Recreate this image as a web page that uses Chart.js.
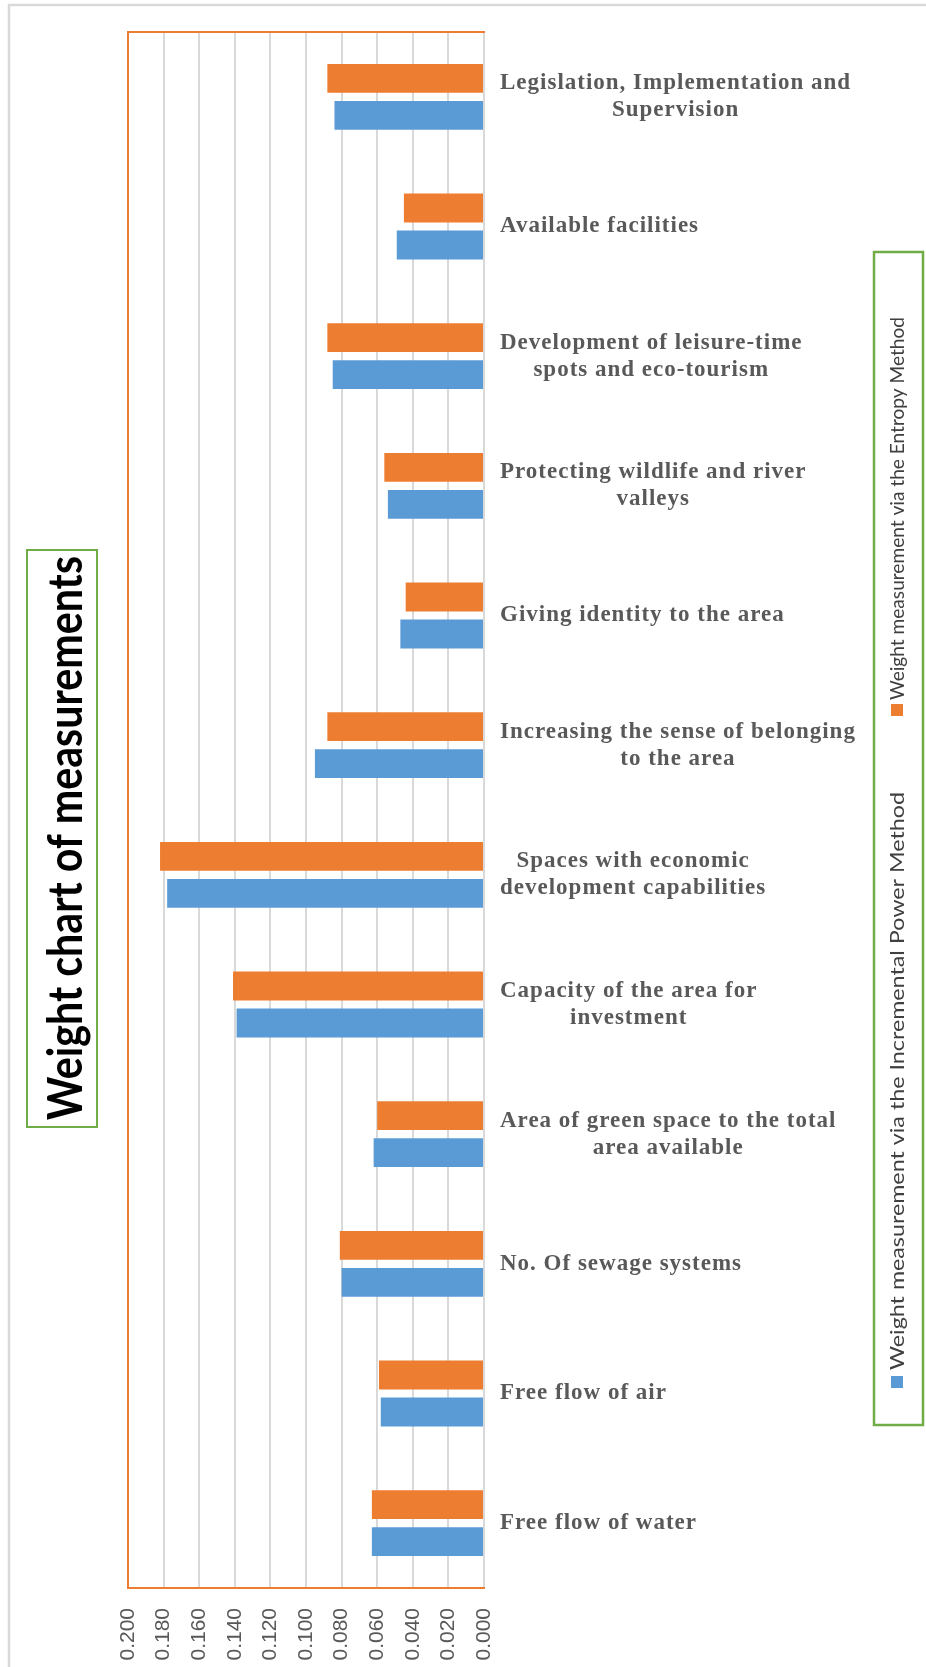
<!DOCTYPE html>
<html>
<head>
<meta charset="utf-8">
<title>Weight chart of measurements</title>
<style>
  html, body { margin: 0; padding: 0; background: #fff; overflow: hidden; }
  #wrap { width: 926px; height: 1667px; position: relative; }
</style>
<script src="https://cdn.jsdelivr.net/npm/chart.js@4/dist/chart.umd.min.js"></script>
</head>
<body>
<div id="wrap"><canvas id="chart_weightMeasurements"></canvas></div>
<script>
// sheet order: the first category ends up at the bottom of the picture
var categories = [
    ['Free flow of water'],
    ['Free flow of air'],
    ['No. Of sewage systems'],
    ['Area of green space to the total', 'area available'],
    ['Capacity of the area for', 'investment'],
    ['Spaces with economic', 'development capabilities'],
    ['Increasing the sense of belonging', 'to the area'],
    ['Giving identity to the area'],
    ['Protecting wildlife and river', 'valleys'],
    ['Development of leisure-time', 'spots and eco-tourism'],
    ['Available facilities'],
    ['Legislation, Implementation and', 'Supervision']
];
var incrementalPowerWeights = [0.063, 0.058, 0.080, 0.062, 0.139, 0.178, 0.095, 0.047, 0.054, 0.085, 0.049, 0.084];
var entropyWeights = [0.063, 0.059, 0.081, 0.060, 0.141, 0.182, 0.088, 0.044, 0.056, 0.088, 0.045, 0.088];
var valueTickLabels = ['0.000', '0.020', '0.040', '0.060', '0.080', '0.100', '0.120', '0.140', '0.160', '0.180', '0.200'];
var seriesIncremental = 'Weight measurement via the Incremental Power Method';
var seriesEntropy = 'Weight measurement via the Entropy Method';
var chartTitle = 'Weight chart of measurements';

var BLUE = '#5B9BD5', ORANGE = '#ED7D31', GREEN = '#70AD47';

// draws text rotated to read bottom-to-top, stretched to a given length
function drawUpText(ctx, text, x, y, len, font, align, baseline) {
    ctx.save();
    ctx.font = font;
    var w = ctx.measureText(text).width;
    ctx.translate(x, y);
    ctx.rotate(-Math.PI / 2);
    ctx.scale(len / w, 1);
    ctx.textAlign = align;
    ctx.textBaseline = baseline || 'middle';
    ctx.fillText(text, 0, 0);
    ctx.restore();
}

var decorations = {
    id: 'decorations',
    beforeDraw: function (chart) {
        var ctx = chart.ctx;
        ctx.save();
        ctx.fillStyle = '#fff';
        ctx.fillRect(0, 0, chart.width, chart.height);
        ctx.strokeStyle = '#d9d9d9';
        ctx.lineWidth = 2.5;
        ctx.strokeRect(9, 5, chart.width + 40, chart.height + 40);
        ctx.restore();
    },
    afterDraw: function (chart) {
        var ctx = chart.ctx;
        var area = chart.chartArea;
        var yScale = chart.scales.y;
        ctx.save();

        // orange plot frame (left + top, bottom is the x axis border)
        ctx.strokeStyle = ORANGE;
        ctx.lineWidth = 2;
        ctx.beginPath();
        ctx.moveTo(area.right + 1, area.top);
        ctx.lineTo(area.left, area.top);
        ctx.lineTo(area.left, area.bottom);
        ctx.stroke();

        // category labels, block left aligned, lines centred in the block
        ctx.font = 'bold 23px "Liberation Serif"';
        ctx.letterSpacing = '1px';
        ctx.fillStyle = '#595959';
        ctx.textAlign = 'center';
        ctx.textBaseline = 'middle';
        categories.forEach(function (lines, i) {
            var cy = yScale.getPixelForTick(i);
            var w = Math.max.apply(null, lines.map(function (l) { return ctx.measureText(l).width; }));
            var cx = area.right + 16 + w / 2;
            lines.forEach(function (line, k) {
                ctx.fillText(line, cx, cy + (k - (lines.length - 1) / 2) * 27);
            });
        });
        ctx.letterSpacing = '0px';

        // title box
        ctx.strokeStyle = GREEN;
        ctx.lineWidth = 2;
        ctx.strokeRect(27, 550, 70, 577);
        ctx.fillStyle = '#000';
        drawUpText(ctx, chartTitle, 82, 838, 564, 'bold 48px Lato', 'center', 'alphabetic');

        // legend box
        ctx.lineWidth = 2.5;
        ctx.strokeRect(874, 252, 49, 1173);
        ctx.fillStyle = ORANGE;
        ctx.fillRect(891, 704, 12, 12);
        ctx.fillStyle = BLUE;
        ctx.fillRect(891, 1376, 12, 12);
        ctx.fillStyle = '#404040';
        drawUpText(ctx, seriesEntropy, 898, 700, 383, '20px Lato', 'left');
        drawUpText(ctx, seriesIncremental, 898, 1370, 578, '20px Lato', 'left');

        ctx.restore();
    }
};

var chart_weightMeasurements = new Chart(document.getElementById('chart_weightMeasurements'), {
    type: 'bar',
    data: {
        labels: categories,
        datasets: [
            {
                label: seriesEntropy,
                data: entropyWeights,
                backgroundColor: ORANGE,
                barPercentage: 0.78,
                categoryPercentage: 0.571
            },
            {
                label: seriesIncremental,
                data: incrementalPowerWeights,
                backgroundColor: BLUE,
                barPercentage: 0.78,
                categoryPercentage: 0.571
            }
        ]
    },
    options: {
        indexAxis: 'y',
        animation: false,
        responsive: true,
        maintainAspectRatio: false,
        layout: {
            padding: { left: 128, top: 32, right: 442, bottom: 0 }
        },
        plugins: {
            legend: { display: false },
            title: { display: false },
            tooltip: { enabled: true }
        },
        scales: {
            x: {
                type: 'linear',
                reverse: true,
                min: 0,
                max: 0.2,
                grid: { color: '#d9d9d9', lineWidth: 2, drawTicks: false },
                border: { color: ORANGE, width: 2 },
                afterBuildTicks: function (scale) {
                    scale.ticks = valueTickLabels.map(function (t) { return { value: parseFloat(t) }; });
                },
                afterFit: function (scale) { scale.height = 79; },
                ticks: {
                    minRotation: 90,
                    maxRotation: 90,
                    padding: 20,
                    color: '#595959',
                    font: { family: '"Liberation Sans Narrow", "Liberation Sans"', size: 21 },
                    callback: function (value, index) { return valueTickLabels[index]; }
                }
            },
            y: {
                type: 'category',
                reverse: true,
                display: false
            }
        }
    },
    plugins: [decorations]
});
</script>
</body>
</html>
